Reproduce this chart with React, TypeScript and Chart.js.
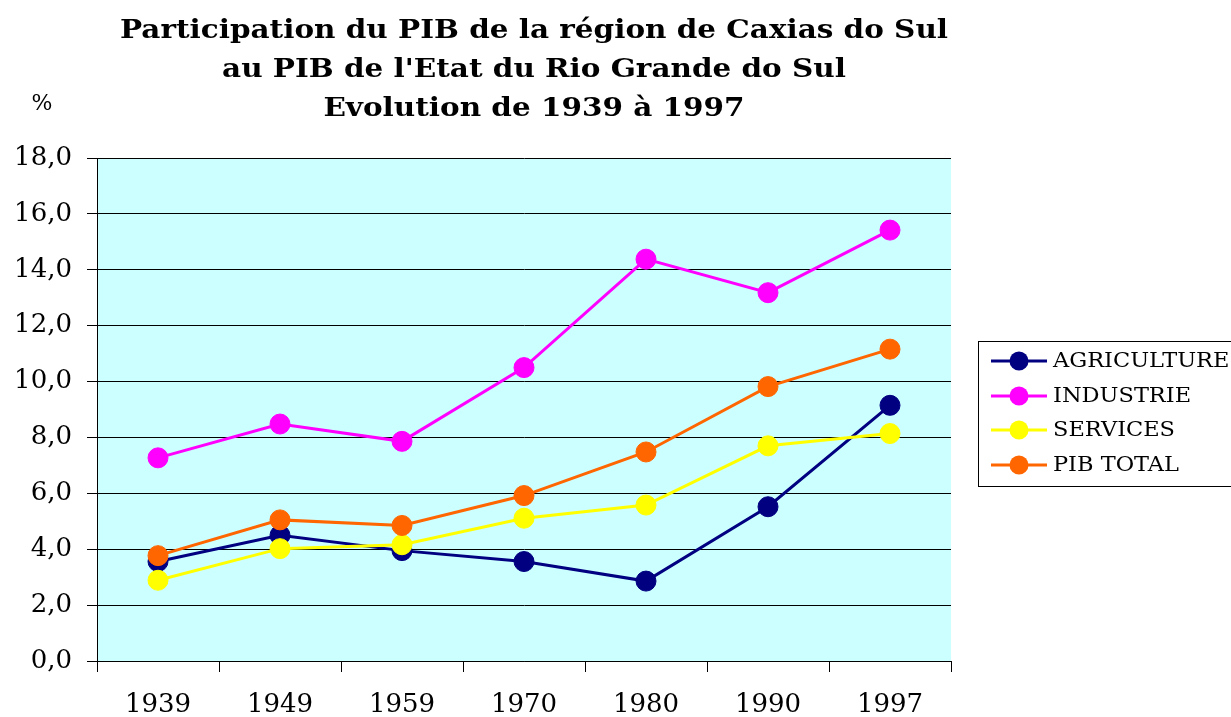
import React, { useEffect, useRef } from "react";
import { Chart, registerables } from "chart.js";

Chart.register(...registerables);

const categories = ["1939", "1949", "1959", "1970", "1980", "1990", "1997"];
const agriculture = [3.56, 4.5, 3.95, 3.56, 2.86, 5.52, 9.15];
const industrie = [7.27, 8.48, 7.86, 10.5, 14.38, 13.18, 15.42];
const services = [2.89, 4.02, 4.16, 5.11, 5.58, 7.7, 8.14];
const pibTotal = [3.77, 5.05, 4.85, 5.92, 7.48, 9.82, 11.16];

const seriesNames = ["AGRICULTURE", "INDUSTRIE", "SERVICES", "PIB TOTAL"];
const seriesColors = ["#000080", "#FF00FF", "#FFFF00", "#FF6600"];
const titleLines = [
  "Participation du PIB de la région de Caxias do Sul",
  "au PIB de l'Etat du Rio Grande do Sul",
  "Evolution de 1939 à 1997",
];
const unitLabel = "%";

const SERIF = "'DejaVu Serif', serif";

function wideText(ctx: any, text: string, x: number, y: number, sx: number) {
  ctx.save();
  ctx.translate(x, y);
  ctx.scale(sx, 1);
  ctx.fillText(text, 0, 0);
  ctx.restore();
}

const decorPlugin = {
  id: "decor",
  beforeDraw(chart: any) {
    const { ctx, chartArea } = chart;
    ctx.save();
    ctx.fillStyle = "#CCFFFF";
    ctx.fillRect(
      chartArea.left,
      chartArea.top,
      chartArea.right - chartArea.left,
      chartArea.bottom - chartArea.top
    );
    ctx.restore();
  },
  afterDraw(chart: any) {
    const { ctx } = chart;
    ctx.save();
    // Title
    ctx.fillStyle = "#000";
    ctx.textAlign = "center";
    ctx.textBaseline = "middle";
    ctx.font = `bold 26px ${SERIF}`;
    const w0 = ctx.measureText(titleLines[0]).width;
    const sx = 828 / w0;
    const ys = [31, 70, 109];
    titleLines.forEach((t, i) => wideText(ctx, t, 534, ys[i], sx));
    // Unit label
    ctx.font = `22px ${SERIF}`;
    ctx.fillText(unitLabel, 42, 104);
    // Legend
    ctx.strokeStyle = "#000";
    ctx.lineWidth = 1;
    ctx.strokeRect(978.5, 341.5, 270, 145);
    const rowY = [361, 396, 430, 465];
    chart.data.datasets.forEach((ds: any, i: number) => {
      const y = rowY[i];
      ctx.strokeStyle = ds.borderColor;
      ctx.lineWidth = 3;
      ctx.beginPath();
      ctx.moveTo(991, y);
      ctx.lineTo(1047, y);
      ctx.stroke();
      ctx.fillStyle = ds.borderColor;
      ctx.beginPath();
      ctx.arc(1019, y, 9.5, 0, Math.PI * 2);
      ctx.fill();
      ctx.fillStyle = "#000";
      ctx.textAlign = "left";
      ctx.textBaseline = "middle";
      ctx.font = `21px ${SERIF}`;
      wideText(ctx, ds.label, 1053, y + 1, 1.07);
    });
    ctx.restore();
  },
};

export default function App() {
  const ref = useRef<HTMLCanvasElement | null>(null);
  useEffect(() => {
    if (!ref.current) return;
    const values = [agriculture, industrie, services, pibTotal];
    const chart = new Chart(ref.current, {
      type: "line",
      data: {
        labels: categories,
        datasets: values.map((v, i) => ({
          label: seriesNames[i],
          data: v,
          borderColor: seriesColors[i],
          backgroundColor: seriesColors[i],
          pointBackgroundColor: seriesColors[i],
          pointBorderColor: seriesColors[i],
          borderWidth: 3,
          pointRadius: 10,
          pointBorderWidth: 1,
          tension: 0,
          order: 4 - i,
        })),
      },
      options: {
        responsive: false,
        animation: false,
        layout: { padding: { top: 158, right: 280, left: 0, bottom: 0 } },
        plugins: {
          legend: { display: false },
          title: { display: false },
          tooltip: { enabled: false },
        },
        scales: {
          x: {
            offset: true,
            afterFit: (s: any) => {
              s.height = 56;
            },
            grid: {
              display: true,
              offset: true,
              drawOnChartArea: false,
              drawTicks: true,
              tickLength: 11,
              color: "#000",
              lineWidth: 1,
            },
            border: { display: true, color: "#000", width: 1 },
            ticks: {
              color: "#000",
              font: { family: SERIF, size: 26 },
              padding: 18,
              maxRotation: 0,
            },
          },
          y: {
            min: 0,
            max: 18,
            afterFit: (s: any) => {
              s.width = 97;
            },
            grid: {
              color: "#000",
              lineWidth: 1,
              drawTicks: true,
              tickLength: 10,
            },
            border: { display: true, color: "#000", width: 1 },
            ticks: {
              stepSize: 2,
              color: "#000",
              font: { family: SERIF, size: 26 },
              padding: 15,
              callback: (v: any) => Number(v).toFixed(1).replace(".", ","),
            },
          },
        },
      },
      plugins: [decorPlugin],
    });
    return () => chart.destroy();
  }, []);
  return (
    <div style={{ position: "absolute", left: 0, top: 0, width: 1231, height: 717, background: "#fff" }}>
      <canvas ref={ref} width={1231} height={717} />
    </div>
  );
}
